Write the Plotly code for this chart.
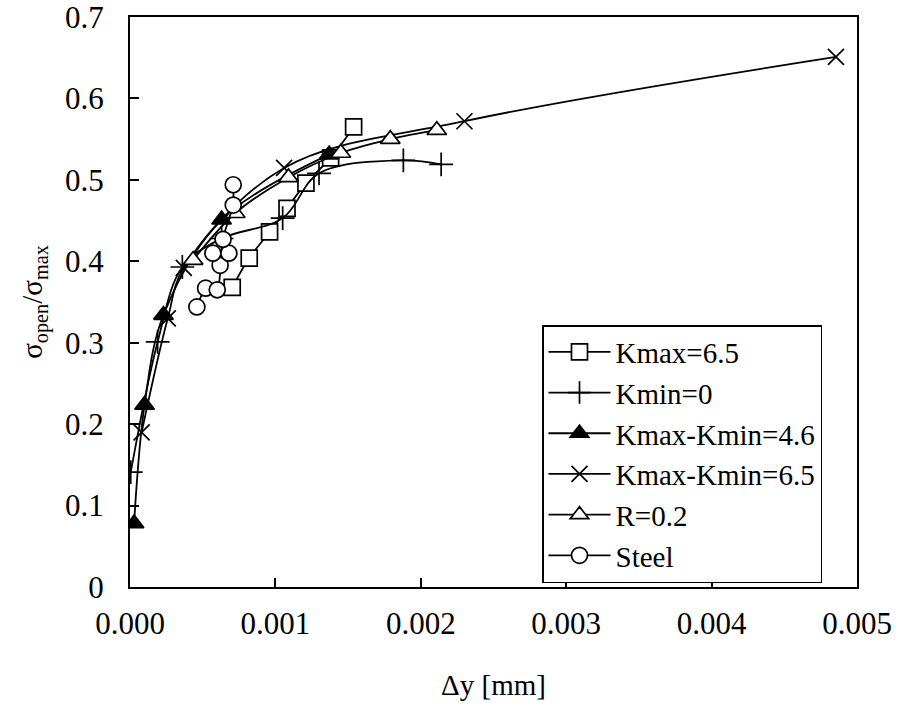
import plotly.graph_objects as go

# ---- data ----
kmax65_x = [0.000703, 0.00082, 0.00096, 0.00108, 0.00121, 0.00138, 0.001538]
kmax65_y = [0.368, 0.404, 0.436, 0.465, 0.496, 0.527, 0.565]

kmin0_x = [0.000005, 0.00019, 0.00036, 0.00063, 0.00105, 0.0013, 0.00188, 0.00214]
kmin0_y = [0.141, 0.301, 0.393, 0.428, 0.453, 0.508, 0.524, 0.519]

dk46_x = [0.000028, 0.0001, 0.00023, 0.00063, 0.00137]
dk46_y = [0.078, 0.2235, 0.334, 0.451, 0.531]

dk65_x = [0.00008, 0.00026, 0.00037, 0.00106, 0.0023, 0.004855]
dk65_y = [0.19, 0.33, 0.392, 0.5146, 0.572, 0.651]

r02_x = [0.000434, 0.000724, 0.00109, 0.00145, 0.00179, 0.00211]
r02_y = [0.4015, 0.459, 0.503, 0.533, 0.550, 0.561]

steel_x = [0.00046, 0.00052, 0.0006, 0.00062, 0.00057, 0.00068, 0.00064, 0.00071, 0.00071]
steel_y = [0.344, 0.367, 0.365, 0.395, 0.41, 0.41, 0.427, 0.469, 0.494]

x_ticks = [0.000, 0.001, 0.002, 0.003, 0.004, 0.005]
y_ticks = [0, 0.1, 0.2, 0.3, 0.4, 0.5, 0.6, 0.7]

FONT = "Liberation Serif"

series = [
    ("Kmax=6.5", kmax65_x, kmax65_y, "square-open", 16, 1.0),
    ("Kmin=0", kmin0_x, kmin0_y, "cross-thin", 17, 1.0),
    ("Kmax-Kmin=4.6", dk46_x, dk46_y, "triangle-up", 17, 1.0),
    ("Kmax-Kmin=6.5", dk65_x, dk65_y, "x-thin", 16, 1.0),
    ("R=0.2", r02_x, r02_y, "triangle-up-open", 17, 1.0),
    ("Steel", steel_x, steel_y, "circle-open", 16, 0.5),
]

fig = go.Figure()
for i, (name, xs, ys, sym, size, smooth) in enumerate(series):
    fill = "black" if sym == "triangle-up" else "white"
    sym_use = sym.replace("-open", "")
    fig.add_trace(go.Scatter(
        x=xs, y=ys, name=name, mode="lines+markers",
        line=dict(color="black", width=1.8, shape="spline", smoothing=smooth),
        marker=dict(symbol=sym_use, size=size, color=fill,
                    line=dict(color="black", width=1.7)),
        legendgroup=f"g{i}",
    ))

fig.update_layout(
    width=900, height=711,
    margin=dict(l=130, r=43, t=17, b=124, autoexpand=False),
    paper_bgcolor="white", plot_bgcolor="white",
    font=dict(family=FONT, size=29, color="black"),
    showlegend=True,
    legend=dict(
        x=(542 - 130) / 727, y=(587 - 325) / 570, xanchor="left", yanchor="top",
        bgcolor="white", bordercolor="black", borderwidth=1.5,
        font=dict(family=FONT, size=29, color="black"),
        tracegroupgap=0, itemwidth=62,
    ),
    xaxis=dict(
        range=[0, 0.005], tickvals=x_ticks, tickformat=".3f",
        ticks="inside", ticklen=9, tickwidth=1.5, tickcolor="black",
        showline=True, linecolor="black", linewidth=2, mirror=True,
        showgrid=False, zeroline=False, automargin=False,
        ticklabeloverflow="allow",
        tickfont=dict(family=FONT, size=31, color="black"),
        title=dict(text="Δy [mm]", standoff=34, font=dict(family=FONT, size=29)),
        ticklabelstandoff=8,
    ),
    yaxis=dict(
        range=[0, 0.7], tickvals=y_ticks,
        ticktext=[("0" if v == 0 else f"{v:.1f}") for v in y_ticks],
        ticks="inside", ticklen=9, tickwidth=1.5, tickcolor="black",
        showline=True, linecolor="black", linewidth=2, mirror=True,
        showgrid=False, zeroline=False, automargin=False,
        ticklabeloverflow="allow",
        tickfont=dict(family=FONT, size=31, color="black"),
        title=dict(text="σ<sub>open</sub>/σ<sub>max</sub>", standoff=14,
                   font=dict(family=FONT, size=29)),
        ticklabelstandoff=18,
    ),
)

fig.write_html("out.html")
